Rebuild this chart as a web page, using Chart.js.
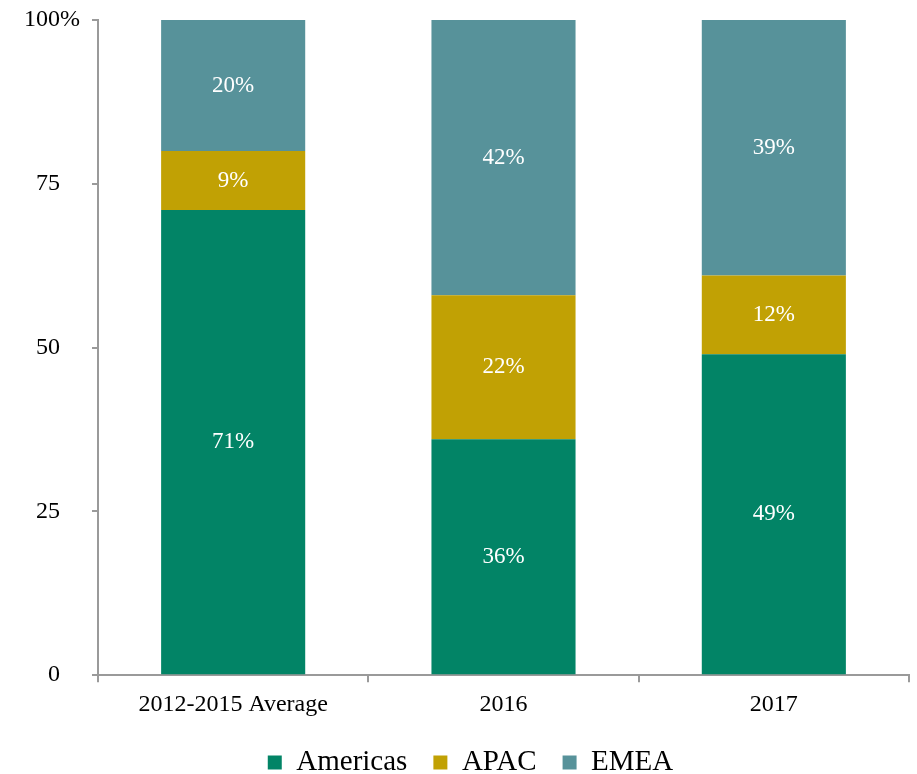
<!DOCTYPE html>
<html>
<head>
<meta charset="utf-8">
<script src="https://cdn.jsdelivr.net/npm/chart.js@4.4.1/dist/chart.umd.min.js"></script>
<style>
  html, body { margin: 0; padding: 0; background: #fff; }
  #wrap { width: 917px; height: 774px; }
</style>
</head>
<body>
<div id="wrap"><canvas id="regionChart" width="917" height="774"></canvas></div>
<script>
// regional share, percent of total
const categories = ['2012-2015 Average', '2016', '2017'];
const americas = [71, 36, 49];
const apac = [9, 22, 12];
const emea = [20, 42, 39];
const yTicks = [0, 25, 50, 75, 100];

const serif = "'Liberation Serif', 'Times New Roman', serif";
const axisGray = '#9a9a9a';

// white percent labels in the middle of each segment
const segmentLabels = {
    id: 'segmentLabels',
    afterDatasetsDraw(chart) {
        const ctx = chart.ctx;
        ctx.save();
        ctx.fillStyle = '#ffffff';
        ctx.font = '23px ' + serif;
        ctx.textAlign = 'center';
        ctx.textBaseline = 'middle';
        chart.data.datasets.forEach((ds, i) => {
            chart.getDatasetMeta(i).data.forEach((bar, j) => {
                const mid = (bar.y + bar.base) / 2;
                ctx.fillText(ds.data[j] + '%', bar.x, mid);
            });
        });
        ctx.restore();
    }
};

// the top tick carries a percent sign hanging past the number column
const topPercent = {
    id: 'topPercent',
    afterDraw(chart) {
        const y = chart.scales.y;
        const ctx = chart.ctx;
        ctx.save();
        ctx.fillStyle = '#000';
        ctx.font = '24px ' + serif;
        ctx.textAlign = 'left';
        ctx.textBaseline = 'middle';
        ctx.fillText('%', 60, y.getPixelForValue(100));
        ctx.restore();
    }
};

// nudge the legend right of the canvas centre and a little up
const legendShift = {
    id: 'legendShift',
    afterLayout(chart) {
        chart.legend.left += 16;
        chart.legend.right += 16;
        chart.legend.top -= 5;
        chart.legend.bottom -= 5;
    }
};

new Chart(document.getElementById('regionChart'), {
    type: 'bar',
    data: {
        labels: categories,
        datasets: [
            { label: 'Americas', data: americas, backgroundColor: '#028466' },
            { label: 'APAC', data: apac, backgroundColor: '#c1a104' },
            { label: 'EMEA', data: emea, backgroundColor: '#57929a' }
        ]
    },
    options: {
        responsive: false,
        animation: false,
        layout: { padding: { top: 20, right: 8, left: 0, bottom: -18 } },
        datasets: { bar: { barPercentage: 0.533, categoryPercentage: 1 } },
        plugins: {
            tooltip: { enabled: false },
            legend: {
                position: 'bottom',
                labels: {
                    font: { family: serif, size: 29 },
                    color: '#000',
                    boxWidth: 14,
                    boxHeight: 14,
                    padding: 26
                }
            }
        },
        scales: {
            x: {
                stacked: true,
                border: { color: axisGray, width: 2 },
                grid: { display: true, drawOnChartArea: false, drawTicks: true, tickLength: 7, color: axisGray, lineWidth: 2 },
                ticks: { color: '#000', font: { family: serif, size: 24 }, padding: 8, maxRotation: 0 }
            },
            y: {
                stacked: true,
                min: 0,
                max: 100,
                afterBuildTicks(scale) {
                    scale.ticks = yTicks.map(v => ({ value: v }));
                },
                afterFit(scale) {
                    scale.width = 98;
                    scale.paddingTop = 0;
                    scale.paddingBottom = 0;
                },
                border: { color: axisGray, width: 2 },
                grid: { display: true, drawOnChartArea: false, drawTicks: true, tickLength: 6, color: axisGray, lineWidth: 2 },
                ticks: { color: '#000', font: { family: serif, size: 24 }, padding: 32 }
            }
        }
    },
    plugins: [segmentLabels, topPercent, legendShift]
});
</script>
</body>
</html>
